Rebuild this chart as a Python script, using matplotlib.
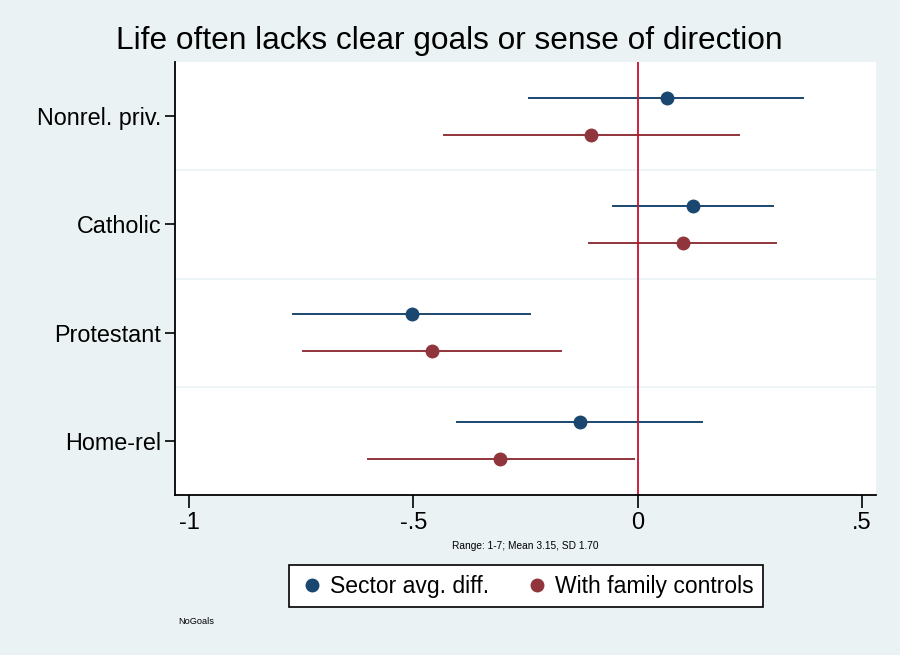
import matplotlib.pyplot as plt

plt.rcParams['font.family'] = ['Liberation Sans', 'DejaVu Sans']

sectors = ["Nonrel. priv.", "Catholic", "Protestant", "Home-rel"]

# sector average difference
avg_est = [0.065, 0.123, -0.504, -0.129]
avg_lo = [-0.242, -0.055, -0.768, -0.402]
avg_hi = [0.370, 0.302, -0.240, 0.144]

# with family controls
fam_est = [-0.103, 0.101, -0.459, -0.306]
fam_lo = [-0.432, -0.108, -0.747, -0.602]
fam_hi = [0.226, 0.310, -0.171, -0.008]

xticks = [-1, -0.5, 0, 0.5]
xticklabels = ["-1", "-.5", "0", ".5"]

blue = "#1a476f"
red = "#90353b"
bg = "#eaf2f3"

fig = plt.figure(figsize=(9, 6.55), dpi=100, facecolor=bg)
ax = fig.add_axes([0.1944, 0.2443, 0.7789, 0.661])
ax.set_facecolor("white")

rows = list(range(1, len(sectors) + 1))
off = 0.17

for i, r in enumerate(rows):
    ax.plot([avg_lo[i], avg_hi[i]], [r - off, r - off], color=blue, lw=1.4, zorder=2)
    ax.plot([fam_lo[i], fam_hi[i]], [r + off, r + off], color=red, lw=1.4, zorder=2)
ax.plot(avg_est, [r - off for r in rows], "o", color=blue, ms=9, zorder=3,
        label="Sector avg. diff.")
ax.plot(fam_est, [r + off for r in rows], "o", color=red, ms=9, zorder=3,
        label="With family controls")

ax.axvline(0, color="#c8102e", lw=1.3, zorder=2.5)
for g in [1.5, 2.5, 3.5]:
    ax.axhline(g, color=bg, lw=1.2, zorder=1)

ax.set_ylim(4.5, 0.5)
ax.set_xlim(-1.032, 0.532)
ax.set_yticks(rows)
ax.set_yticklabels(sectors, fontsize=16.8)
ax.set_xticks(xticks)
ax.set_xticklabels(xticklabels, fontsize=17)
ax.tick_params(axis="y", length=7, width=1.2, pad=3)
ax.tick_params(axis="x", length=9, width=1.2, pad=3)
for s in ["top", "right"]:
    ax.spines[s].set_visible(False)
for s in ["left", "bottom"]:
    ax.spines[s].set_linewidth(1.3)

fig.text(0.499, 0.938, "Life often lacks clear goals or sense of direction",
         fontsize=22.8, ha="center", va="center")
ax.set_xlabel("Range: 1-7; Mean 3.15, SD 1.70", fontsize=7.3, labelpad=5)

leg = fig.legend(loc="center", bbox_to_anchor=(0.5844, 0.1053), ncol=2, fontsize=16.5,
                 frameon=True, fancybox=False, edgecolor="black", facecolor="white",
                 framealpha=1, handletextpad=0.2, columnspacing=1.5, borderpad=0.4,
                 handlelength=1.2)
leg.get_frame().set_linewidth(1.2)

fig.text(0.198, 0.048, "NoGoals", fontsize=6.6)

fig.savefig("out.png", dpi=100, facecolor=bg)
